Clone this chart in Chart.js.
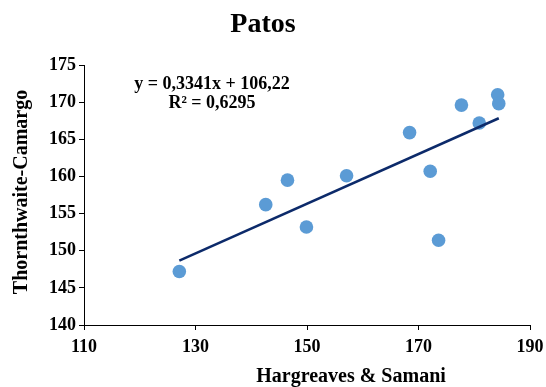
<!DOCTYPE html>
<html>
<head>
<meta charset="utf-8">
<script src="https://cdn.jsdelivr.net/npm/chart.js@4/dist/chart.umd.min.js"></script>
<style>
  html, body { margin: 0; padding: 0; background: #fff; }
  #wrap { width: 546px; height: 387px; position: relative; }
</style>
</head>
<body>
<div id="wrap"><canvas id="c" width="546" height="387"></canvas></div>
<script>
// ---- data ----
const hargreavesSamani = [127.1, 142.6, 146.5, 149.9, 157.1, 168.4, 172.1, 173.6, 177.7, 180.9, 184.2, 184.4];
const thornthwaiteCamargo = [147.2, 156.2, 159.5, 153.2, 160.1, 165.9, 160.7, 151.4, 169.6, 167.2, 171.0, 169.8];
const trendX = [127.1, 184.4];
const trendY = [148.68, 167.83];
const xTicks = [110, 130, 150, 170, 190];
const yTicks = [140, 145, 150, 155, 160, 165, 170, 175];
const titleText = 'Patos';
const xTitle = 'Hargreaves & Samani';
const yTitle = 'Thornthwaite-Camargo';
const equationLines = ['y = 0,3341x + 106,22', 'R\u00B2 = 0,6295'];

const serif = "'Liberation Serif', 'Times New Roman', serif";

const scatterPts = hargreavesSamani.map((x, i) => ({ x: x, y: thornthwaiteCamargo[i] }));
const trendPts = trendX.map((x, i) => ({ x: x, y: trendY[i] }));

const textPlugin = {
  id: 'texts',
  afterDraw(chart) {
    const ctx = chart.ctx;
    ctx.save();
    ctx.fillStyle = '#000';
    ctx.textAlign = 'center';
    ctx.textBaseline = 'middle';
    // Title
    ctx.font = 'bold 28px ' + serif;
    ctx.fillText(titleText, 263, 25);
    // X axis title
    ctx.font = 'bold 20px ' + serif;
    ctx.fillText(xTitle, 351, 377);
    // Y axis title
    ctx.save();
    ctx.translate(22, 192);
    ctx.rotate(-Math.PI / 2);
    ctx.fillText(yTitle, 0, 0);
    ctx.restore();
    // Equation
    ctx.font = 'bold 18px ' + serif;
    ctx.fillText(equationLines[0], 212, 84);
    ctx.fillText(equationLines[1], 212, 103);
    ctx.restore();
  }
};

new Chart(document.getElementById('c'), {
  type: 'scatter',
  data: {
    datasets: [
      {
        type: 'line',
        label: 'Trend',
        data: trendPts,
        borderColor: '#0c2a6a',
        borderWidth: 2.5,
        pointRadius: 0,
        fill: false,
        order: 0
      },
      {
        label: 'Patos',
        data: scatterPts,
        backgroundColor: '#5b9bd5',
        borderWidth: 0,
        pointRadius: 6.8,
        pointHoverRadius: 6.8,
        order: 1
      }
    ]
  },
  options: {
    responsive: false,
    animation: false,
    events: [],
    layout: { padding: { left: 0, right: 16, top: 65, bottom: 0 } },
    plugins: {
      legend: { display: false },
      title: { display: false },
      tooltip: { enabled: false }
    },
    scales: {
      x: {
        type: 'linear',
        min: 110,
        max: 190,
        afterBuildTicks: (s) => { s.ticks = xTicks.map(v => ({ value: v })); },
        afterFit: (s) => { s.height = 62; s.paddingLeft = 0; s.paddingRight = 0; },
        grid: { display: true, drawOnChartArea: false, drawTicks: true, tickLength: 5, color: '#000', lineWidth: 1 },
        border: { display: true, color: '#000', width: 1 },
        ticks: { color: '#000', font: { family: serif, size: 18, weight: 'bold' }, padding: 7, maxRotation: 0 }
      },
      y: {
        type: 'linear',
        min: 140,
        max: 175,
        afterBuildTicks: (s) => { s.ticks = yTicks.map(v => ({ value: v })); },
        afterFit: (s) => { s.width = 84; s.paddingTop = 0; s.paddingBottom = 0; },
        grid: { display: true, drawOnChartArea: false, drawTicks: true, tickLength: 5, color: '#000', lineWidth: 1 },
        border: { display: true, color: '#000', width: 1 },
        ticks: { color: '#000', font: { family: serif, size: 18, weight: 'bold' }, padding: 3 }
      }
    }
  },
  plugins: [textPlugin]
});
</script>
</body>
</html>
